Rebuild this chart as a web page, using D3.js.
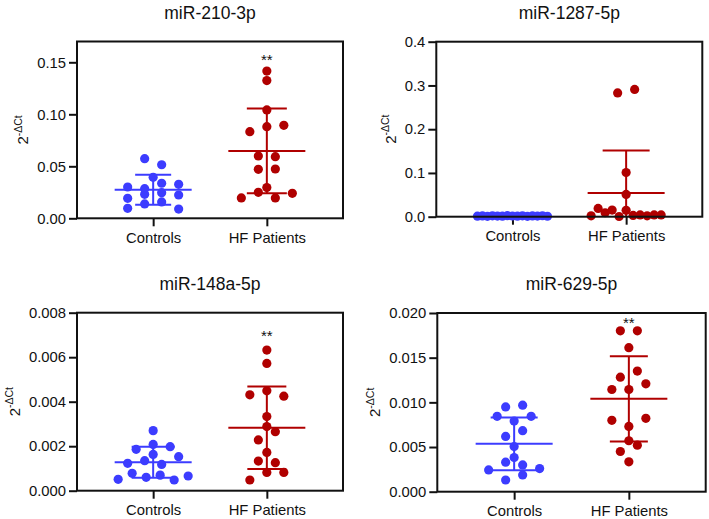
<!DOCTYPE html>
<html><head><meta charset="utf-8">
<script src="https://cdn.jsdelivr.net/npm/d3@7/dist/d3.min.js"></script>
<style>
body{margin:0;background:#fff}
text{font-family:"Liberation Sans",Arial,Helvetica,sans-serif;fill:#111}
</style>
</head><body>
<svg id="chart" width="709" height="519"></svg>
<script>
// ---------------- data ----------------
const groups = ["Controls", "HF Patients"];
const titles = ["miR-210-3p", "miR-1287-5p", "miR-148a-5p", "miR-629-5p"];

const controls210 = [0.0096, 0.0138, 0.0157, 0.0089, 0.0192, 0.0231, 0.0246, 0.0224, 0.0301, 0.0285, 0.0337, 0.0327, 0.0394, 0.0573, 0.0515];
const hf210 = [0.0196, 0.0250, 0.0196, 0.0240, 0.0295, 0.0471, 0.0474, 0.0599, 0.0593, 0.0833, 0.0881, 0.0894, 0.1042, 0.1324, 0.1416];

const controls1287 = [0.0012, 0.0018, 0.0009, 0.0021, 0.0015, 0.0011, 0.0024, 0.0016, 0.0013, 0.0019, 0.0008, 0.0017, 0.0014, 0.0022, 0.0010];
const hf1287 = [0.0020, 0.0190, 0.0090, 0.0152, 0.0005, 0.0145, 0.0030, 0.0040, 0.0020, 0.0040, 0.0040, 0.0510, 0.1010, 0.2830, 0.2910];

const controls148 = [0.00051, 0.00078, 0.00060, 0.00070, 0.00048, 0.00066, 0.00123, 0.00135, 0.00118, 0.00153, 0.00186, 0.00163, 0.00198, 0.00208, 0.00270];
const hf148 = [0.00048, 0.00082, 0.00082, 0.00133, 0.00126, 0.00172, 0.00228, 0.00265, 0.00288, 0.00333, 0.00431, 0.00449, 0.00425, 0.00572, 0.00632];

const controls629 = [0.00131, 0.00188, 0.00244, 0.00330, 0.00300, 0.00259, 0.00383, 0.00506, 0.00619, 0.00683, 0.00844, 0.00790, 0.00844, 0.00949, 0.00968];
const hf629 = [0.00334, 0.00450, 0.00521, 0.00570, 0.00799, 0.00731, 0.00821, 0.01144, 0.01144, 0.01207, 0.01282, 0.01350, 0.01612, 0.01800, 0.01800];

const meanCtrl = [0.0275, 0.0015, 0.00128, 0.00536];
const sdCtrl   = [0.0144, 0.0005, 0.00070, 0.00295];
const meanHF   = [0.0648, 0.0540, 0.00283, 0.01039];
const sdHF     = [0.0407, 0.0976, 0.00185, 0.00478];

const yMax = [0.17, 0.4, 0.008, 0.02];
const yTicks = [
  [0, 0.05, 0.10, 0.15],
  [0, 0.1, 0.2, 0.3, 0.4],
  [0, 0.002, 0.004, 0.006, 0.008],
  [0, 0.005, 0.010, 0.015, 0.020]
];
const tickFormats = [".2f", ".1f", ".3f", ".3f"];
const sigLabel = ["**", "", "**", "**"];
const sigY = [0.156, null, 0.0071, 0.0193];

// ---------------- layout / style ----------------
const frames = [
  {l: 77,    r: 343,   t: 41.5, b: 218.3},
  {l: 436.3, r: 702.3, t: 41.7, b: 216.7},
  {l: 77,    r: 343,   t: 312.7, b: 490.7},
  {l: 437.3, r: 705.7, t: 313,  b: 491.7}
];
const capW = [[36, 40], [40, 47], [43, 39], [47, 38]];
const meanW = 77;
const colors = ["#3c3cff", "#b00000"];
const R = 4.6;

const panelData = [
  [controls210, hf210],
  [controls1287, hf1287],
  [controls148, hf148],
  [controls629, hf629]
];
const means = [meanCtrl, meanHF];
const sds = [sdCtrl, sdHF];

const svg = d3.select("#chart");
svg.append("rect").attr("width", 709).attr("height", 519).attr("fill", "#fff");

// GraphPad-like row scatter layout
function rowLayout(values, y, cx, H = 9, s = 17, W = 70) {
  const pts = values.map((v, i) => ({v, i, py: y(v)}));
  const sorted = [...pts].sort((a, b) => b.py - a.py || a.i - b.i);
  const rows = [];
  let cur = null;
  for (const p of sorted) {
    if (cur && cur.start - p.py <= H + 1e-9) cur.items.push(p);
    else { cur = {start: p.py, items: [p]}; rows.push(cur); }
  }
  for (const row of rows) {
    const items = row.items.sort((a, b) => a.i - b.i);
    const n = items.length;
    const sp = n > 1 ? Math.min(s, W / (n - 1)) : 0;
    items.forEach((p, k) => { p.px = cx + (k - (n - 1) / 2) * sp; });
  }
  return pts;
}

panelData.forEach((pd, pi) => {
  const f = frames[pi];
  const g = svg.append("g");
  const x = d3.scalePoint().domain(groups).range([f.l, f.r]).padding(0.67);
  const y = d3.scaleLinear().domain([0, yMax[pi]]).range([f.b, f.t]);

  // title
  g.append("text").attr("x", (f.l + f.r) / 2).attr("y", f.t - 22.7)
    .attr("text-anchor", "middle").attr("font-size", 17.5).text(titles[pi]);

  // y axis
  const ya = g.append("g").attr("transform", `translate(${f.l},0)`)
    .call(d3.axisLeft(y).tickValues(yTicks[pi]).tickFormat(d3.format(tickFormats[pi]))
      .tickSize(8).tickPadding(3).tickSizeOuter(0));
  ya.select(".domain").remove();
  ya.selectAll(".tick line").attr("stroke", "#111").attr("stroke-width", 2);
  ya.selectAll(".tick text").attr("font-size", 14.8).attr("fill", "#111");

  // x axis
  const xa = g.append("g").attr("transform", `translate(0,${f.b})`)
    .call(d3.axisBottom(x).tickSize(8).tickPadding(6).tickSizeOuter(0));
  xa.select(".domain").remove();
  xa.selectAll(".tick line").attr("stroke", "#111").attr("stroke-width", 2);
  xa.selectAll(".tick text").attr("font-size", 14.8).attr("fill", "#111");

  // y label
  const bb = ya.node().getBBox();
  const lx = f.l + bb.x - 9;
  const ly = (f.t + f.b) / 2;
  const lab = g.append("text").attr("transform", `translate(${lx},${ly}) rotate(-90)`)
    .attr("text-anchor", "middle");
  lab.append("tspan").attr("font-size", 15).text("2");
  lab.append("tspan").attr("font-size", 10.5).attr("dy", -6.5).text("-ΔCt");

  // points
  pd.forEach((vals, gi) => {
    const cx = x(groups[gi]);
    const pts = rowLayout(vals, y, cx);
    g.append("g").selectAll("circle").data(pts).join("circle")
      .attr("cx", d => d.px).attr("cy", d => d.py).attr("r", R)
      .attr("fill", colors[gi]);

    // mean ± SD
    const m = means[gi][pi], sd = sds[gi][pi];
    const lo = Math.max(0, m - sd), hi = Math.min(yMax[pi], m + sd);
    const eg = g.append("g").attr("stroke", colors[gi]).attr("stroke-width", 2).attr("fill", "none");
    eg.append("line").attr("x1", cx).attr("x2", cx).attr("y1", y(lo)).attr("y2", y(hi));
    eg.append("line").attr("x1", cx - meanW / 2).attr("x2", cx + meanW / 2).attr("y1", y(m)).attr("y2", y(m));
    const cw = capW[pi][gi];
    if (m + sd <= yMax[pi]) eg.append("line").attr("x1", cx - cw / 2).attr("x2", cx + cw / 2).attr("y1", y(m + sd)).attr("y2", y(m + sd));
    if (m - sd >= 0) eg.append("line").attr("x1", cx - cw / 2).attr("x2", cx + cw / 2).attr("y1", y(m - sd)).attr("y2", y(m - sd));
  });

  // significance
  if (sigY[pi] != null) {
    g.append("text").attr("x", x(groups[1])).attr("y", y(sigY[pi]) + 8.6)
      .attr("text-anchor", "middle").attr("font-size", 15).text(sigLabel[pi]);
  }

  // frame
  g.append("rect").attr("x", f.l).attr("y", f.t).attr("width", f.r - f.l).attr("height", f.b - f.t)
    .attr("fill", "none").attr("stroke", "#111").attr("stroke-width", 2);
});
</script>
</body></html>
